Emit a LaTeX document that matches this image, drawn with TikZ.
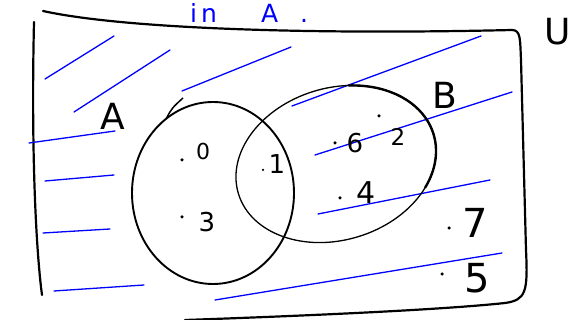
\documentclass[tikz,border=0pt]{standalone}
\usepackage{fontspec}
\setmainfont{DejaVu Sans}
\usepackage{tikz}
\tikzset{
  frame/.style={line width=2.2pt, line cap=round, line join=round},
  setline/.style={line width=1.5pt},
  thickset/.style={line width=2.4pt},
  hatch/.style={blue, line width=1.3pt, line cap=round},
  elem/.style={circle, fill=black, inner sep=0pt, minimum size=3.5pt},
  num/.style={inner sep=0pt, font=\fontsize{26}{26}\selectfont},
  lbl/.style={inner sep=0pt, font=\fontsize{36}{36}\selectfont},
}

\begin{document}
\begin{tikzpicture}[x=1pt, y=-1pt]
\useasboundingbox (0,0) rectangle (571,320);
% universe
\draw[frame] (43,11) .. controls (120,28) and (300,35) .. (512,30) .. controls (521,30) and (520,40) .. (521,60) -- (526,250) .. controls (528,292) and (526,300) .. (505,303) .. controls (440,310) and (300,316) .. (185,320);
\draw[frame] (34,22) .. controls (31,150) and (36,250) .. (42,295);
\node[lbl] (U) at (558,32) {U};
\node[blue, inner sep=0pt, font=\fontsize{25}{25}\selectfont, anchor=base west] (cap) at (190,23) {i\hspace{4pt}n\hspace{44pt}A\hspace{22pt}.};
% shading of the complement
\foreach \p/\q in {{45,79}/{114,36}, {74,112}/{170,50}, {182,91}/{291,47}, {292,106}/{481,36},
  {315,155}/{512,92}, {318,214}/{490,180}, {215,300}/{502,253}, {29,143}/{115,131},
  {45,181}/{114,175}, {43,233}/{110,229}, {54,291}/{144,285}}
  \draw[hatch] (\p) -- (\q);
% set A
\draw[setline, line width=1.9pt] (213,193) ellipse [x radius=81, y radius=91];
\draw[setline] (166,119) .. controls (172,108) .. (183,98);
\node[lbl] (A) at (113,116) {A};
% set B
\begin{scope}[rotate around={17:(336,164)}]
\draw[setline, line width=1.3pt] (336,164) ellipse [x radius=102, y radius=76];
\draw[thickset] (336,164) ++(-70:102 and 76) arc [start angle=-70, end angle=40, x radius=102, y radius=76];
\end{scope}
\node[lbl] (B) at (445,95) {B};
% elements
\node[elem] (d0) at (182,160) {};
\node[num, font=\fontsize{22}{22}\selectfont] (n0) at (203,151) {0};
\node[elem] (d3) at (182,217) {};
\node[num] (n3) at (207,222) {3};
\node[elem, minimum size=2.5pt] (d1) at (263,170) {};
\node[num] (n1) at (277,164) {1};
\node[elem] (d6) at (335,143) {};
\node[num] (n6) at (355,143) {6};
\node[elem] (d2) at (379,116) {};
\node[num, font=\fontsize{23}{23}\selectfont] (n2) at (398,137) {2};
\node[elem] (d4) at (340,198) {};
\node[num, font=\fontsize{30}{30}\selectfont] (n4) at (366,193) {4};
\node[elem] (d7) at (449,228) {};
\node[num, font=\fontsize{40}{40}\selectfont] (n7) at (475,223) {7};
\node[elem] (d5) at (442,274) {};
\node[num, font=\fontsize{40}{40}\selectfont] (n5) at (477,278) {5};
\end{tikzpicture}
\end{document}
